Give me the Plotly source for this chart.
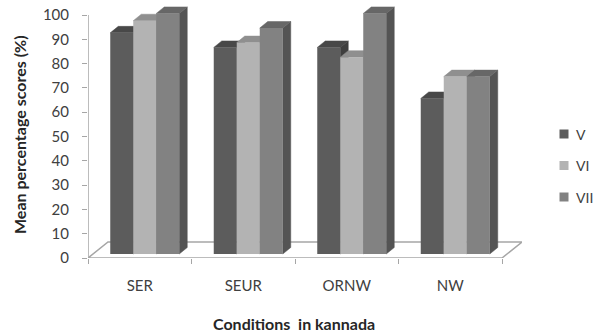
import plotly.graph_objects as go

# ---- data -------------------------------------------------------------
categories = ["SER", "SEUR", "ORNW", "NW"]
series_names = ["V", "VI", "VII"]
scores_v = [91, 85, 85, 64]
scores_vi = [96, 87, 81, 73]
scores_vii = [99, 93, 99, 73]
y_ticks = [0, 10, 20, 30, 40, 50, 60, 70, 80, 90, 100]

series_values = [scores_v, scores_vi, scores_vii]

# ---- style ------------------------------------------------------------
front_colors = ["#5c5c5c", "#b3b3b3", "#828282"]
top_colors = ["#484848", "#8f8f8f", "#676767"]
side_colors = ["#3f3f3f", "#7c7c7c", "#545454"]
axis_color = "#a6a6a6"
text_color = "#404040"
FONT = "Lato"

W_PX, H_PX = 594, 335
PX_PER_CAT = 103.5          # pixels per category unit on x
PX_PER_PCT = 2.43           # pixels per percentage point on y

BAR_W = 23 / PX_PER_CAT     # bar width in category units
SHIFT_X = 5 / PX_PER_CAT    # bars sit a little behind the front edge of the floor
BASE = 4 / PX_PER_PCT
DEPTH_X = 8 / PX_PER_CAT    # oblique depth of each column
DEPTH_Y = 6.5 / PX_PER_PCT
FLOOR_X = 20 / PX_PER_CAT   # oblique depth of the floor
FLOOR_Y = 16 / PX_PER_PCT

n_cat = len(categories)
x_lo, x_hi = -0.5, n_cat - 0.5 + FLOOR_X
y_hi = 105

x_dom = [88 / W_PX, (88 + (x_hi - x_lo) * PX_PER_CAT) / W_PX]
y_dom = [(H_PX - 258) / H_PX, (H_PX - (258 - y_hi * PX_PER_PCT)) / H_PX]

n_ser = len(series_names)
offsets = [(j - (n_ser - 1) / 2) * BAR_W + SHIFT_X for j in range(n_ser)]

fig = go.Figure()

# side and top faces of the columns, painted left to right
for j, vals in enumerate(series_values):
    side_x, side_y, top_x, top_y = [], [], [], []
    for g, v in enumerate(vals):
        left = g + offsets[j] - BAR_W / 2
        right = left + BAR_W
        top = BASE + v
        side_x += [right, right, right + DEPTH_X, right + DEPTH_X, right, None]
        side_y += [BASE, top, top + DEPTH_Y, BASE + DEPTH_Y, BASE, None]
        top_x += [left, right, right + DEPTH_X, left + DEPTH_X, left, None]
        top_y += [top, top, top + DEPTH_Y, top + DEPTH_Y, top, None]
    fig.add_trace(go.Scatter(x=side_x, y=side_y, mode="lines", fill="toself",
                             fillcolor=side_colors[j],
                             line=dict(color=side_colors[j], width=0.5),
                             hoverinfo="skip", showlegend=False))
    fig.add_trace(go.Scatter(x=top_x, y=top_y, mode="lines", fill="toself",
                             fillcolor=top_colors[j],
                             line=dict(color=top_colors[j], width=0.5),
                             hoverinfo="skip", showlegend=False))

# front faces of the columns, on an overlaid subplot so they sit on top
for j, vals in enumerate(series_values):
    fig.add_trace(go.Bar(
        x=[g + offsets[j] for g in range(n_cat)], y=vals, base=BASE,
        width=BAR_W, marker=dict(color=front_colors[j], line=dict(width=0)),
        name=series_names[j], showlegend=False,
        xaxis="x2", yaxis="y2"))

# floor outline and value axis line
fig.add_shape(type="path",
              path=(f"M {x_lo},0 L {x_lo + FLOOR_X},{FLOOR_Y} "
                    f"L {x_hi},{FLOOR_Y} L {n_cat - 0.5},0 Z"),
              xref="x", yref="y", layer="below",
              line=dict(color=axis_color, width=1.5))
fig.add_shape(type="line", x0=x_lo, x1=x_lo, y0=0, y1=y_ticks[-1],
              xref="x", yref="y", layer="below",
              line=dict(color=axis_color, width=1.5))

# legend: a small swatch and a label per series
legend_x = 564 / W_PX
legend_rows = [134, 165.5, 197]
annotations = []
for j, name in enumerate(series_names):
    yc = 1 - legend_rows[j] / H_PX
    fig.add_shape(type="rect", xref="paper", yref="paper",
                  x0=legend_x - 4.5 / W_PX, x1=legend_x + 4.5 / W_PX,
                  y0=yc - 4.5 / H_PX, y1=yc + 4.5 / H_PX,
                  fillcolor=front_colors[j], line=dict(width=0))
    annotations.append(dict(text=name, x=legend_x + 10 / W_PX, y=yc,
                            xref="paper", yref="paper", xanchor="left",
                            yanchor="middle", showarrow=False,
                            font=dict(size=14, color=text_color)))

annotations += [
    dict(text="<b>Mean percentage scores (%)</b>", textangle=-90,
         x=19 / W_PX, y=1 - 135 / H_PX, xref="paper", yref="paper",
         xanchor="center", yanchor="middle",
         showarrow=False, font=dict(size=16, color="#262626")),
    dict(text="<b>Conditions  in kannada</b>",
         x=294 / W_PX, y=1 - 323 / H_PX, xref="paper", yref="paper",
         xanchor="center", yanchor="middle",
         showarrow=False, font=dict(size=16, color="#262626")),
]

fig.update_layout(
    width=W_PX, height=H_PX, autosize=False,
    margin=dict(l=0, r=0, t=0, b=0),
    paper_bgcolor="white", plot_bgcolor="white",
    barmode="overlay",
    font=dict(family=FONT, color=text_color, size=13),
    showlegend=False,
    xaxis=dict(domain=x_dom, range=[x_lo, x_hi], showgrid=False,
               zeroline=False, showline=False, automargin=False,
               tickvals=list(range(n_cat)), ticktext=categories,
               ticks="", ticklabelstandoff=17,
               tickfont=dict(size=15, color=text_color),
               minor=dict(tickvals=[k - 0.5 for k in range(n_cat + 1)],
                          ticks="outside", ticklen=5, tickcolor=axis_color,
                          showgrid=False)),
    yaxis=dict(domain=y_dom, range=[0, y_hi], showgrid=False,
               zeroline=False, showline=False, automargin=False,
               tickvals=y_ticks, ticks="outside", ticklen=5,
               tickcolor=axis_color, ticklabelstandoff=10,
               tickfont=dict(size=15, color=text_color)),
    xaxis2=dict(overlaying="x", matches="x", visible=False, automargin=False),
    yaxis2=dict(overlaying="y", matches="y", visible=False, automargin=False),
    annotations=annotations,
)

fig.write_html("out.html", config={"responsive": False})
